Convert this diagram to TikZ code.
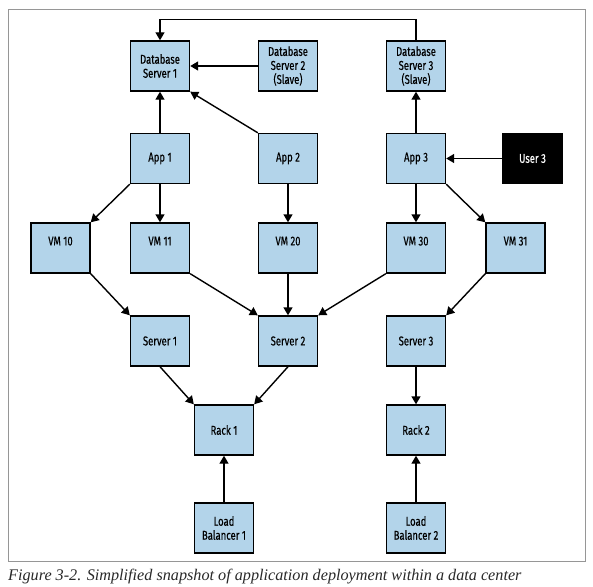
\documentclass[tikz,border=0pt]{standalone}
\usepackage{fontspec}
\usetikzlibrary{arrows.meta}
\newfontfamily\boxfont[FakeStretch=0.74,FakeBold=0.4]{Fira Sans}
\newfontfamily\capfont{Liberation Serif}
\definecolor{boxblue}{RGB}{179,212,234}
\definecolor{framegray}{RGB}{150,150,150}
\definecolor{captext}{RGB}{40,40,40}
\tikzset{
  box/.style={draw=black, line width=1.4pt, fill=boxblue, minimum width=59pt,
    minimum height=50pt, inner sep=0pt, align=center,
    font=\boxfont\fontsize{12.8}{14}\selectfont},
  userbox/.style={box, fill=black, text=white},
  arr/.style={line width=1.4pt, -{Triangle[length=8pt,width=9pt]}},
}
\begin{document}
\begin{tikzpicture}[x=1pt,y=-1pt]
\useasboundingbox (0,0) rectangle (593,586);
\draw[framegray, line width=1pt] (8,10) rectangle (585,561);
% nodes
\node[box] (DB1) at (160,66) {Database\\Server 1};
\node[box] (DB2) at (288,66) {Database\\Server 2\\(Slave)};
\node[box] (DB3) at (416,66) {Database\\Server 3\\(Slave)};
\node[box] (App1) at (160,158.5) {App 1};
\node[box] (App2) at (288,158.5) {App 2};
\node[box] (App3) at (416,158.5) {App 3};
\node[userbox] (User3) at (532.5,158.5) {User 3};
\node[box] (VM10) at (60.5,248) {VM 10\\\mbox{}};
\node[box] (VM11) at (160,248) {VM 11\\\mbox{}};
\node[box] (VM20) at (288,248) {VM 20\\\mbox{}};
\node[box] (VM30) at (416,248) {VM 30\\\mbox{}};
\node[box] (VM31) at (515.5,248) {VM 31\\\mbox{}};
\node[box] (S1) at (160,341) {Server 1};
\node[box] (S2) at (288,341) {Server 2};
\node[box] (S3) at (416,341) {Server 3};
\node[box] (Rack1) at (224,430) {Rack 1};
\node[box] (Rack2) at (416,430) {Rack 2};
\node[box] (LB1) at (224,528) {Load\\Balancer 1};
\node[box] (LB2) at (416,528) {Load\\Balancer 2};
\coordinate (topbend) at (160,19.5);
% connectors
\draw[arr] (DB3.north) |- (topbend) -- (DB1.north);
\draw[arr] (DB2) -- (DB1);
\draw[arr] (App1) -- (DB1);
\draw[arr] (App2.north west) -- (DB1.south east);
\draw[arr] (App3) -- (DB3);
\draw[arr] (User3) -- (App3);
\draw[arr] (App1.south west) -- (VM10.north east);
\draw[arr] (App1) -- (VM11);
\draw[arr] (App2) -- (VM20);
\draw[arr] (App3) -- (VM30);
\draw[arr] (App3.south east) -- (VM31.north west);
\draw[arr] (VM10.south east) -- (S1.north west);
\draw[arr] (VM11.south east) -- (S2.north west);
\draw[arr] (VM20) -- (S2);
\draw[arr] (VM30.south west) -- (S2.north east);
\draw[arr] (VM31.south west) -- (S3.north east);
\draw[arr] (S1.south) -- (Rack1.north west);
\draw[arr] (S2.south) -- (Rack1.north east);
\draw[arr] (S3) -- (Rack2);
\draw[arr] (LB1) -- (Rack1);
\draw[arr] (LB2) -- (Rack2);
% caption
\node[anchor=west, inner sep=0pt, text=captext, font=\capfont\itshape\fontsize{16.2}{19}\selectfont] (cap) at (8,577) {Figure 3-2. Simplified snapshot of application deployment within a data center};
\end{tikzpicture}
\end{document}
